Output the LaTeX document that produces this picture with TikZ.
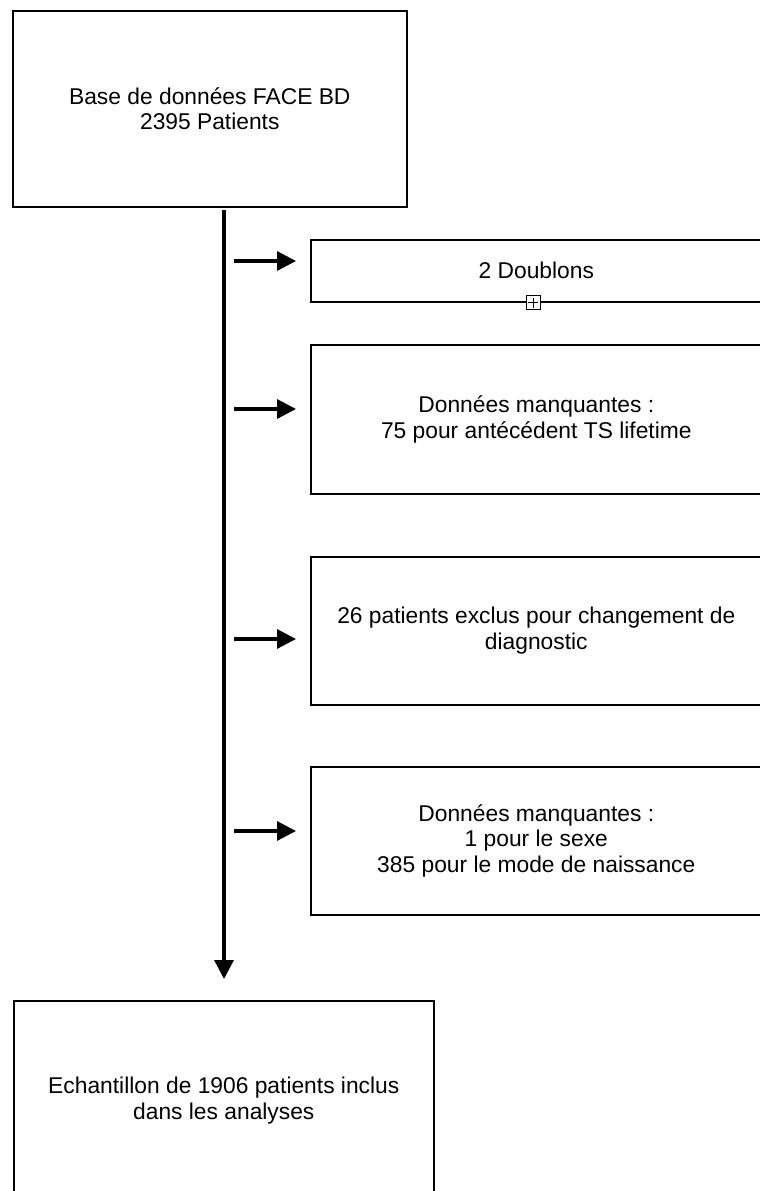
\documentclass[tikz,border=0pt]{standalone}
\usepackage{fontspec}
\setmainfont{Liberation Sans}
\usetikzlibrary{arrows.meta}
\tikzset{
  box/.style = {draw, line width=1.6pt, minimum width=#1, inner sep=0pt, align=center, font=\fontsize{22.8}{25.5}\selectfont, anchor=north west},
  flow/.style = {line width=3.2pt, -{Triangle[length=19pt,width=19pt]}}
}
\begin{document}
\begin{tikzpicture}[x=1pt, y=-1pt]
\useasboundingbox (0,0) rectangle (760,1191);
\clip (0,0) rectangle (760,1191);

\node [box=394pt, minimum height=196pt] (base) at (12,10) {Base de données FACE BD\\2395 Patients};
\node [box=420pt, minimum height=200pt] (echantillon) at (13,1000) {Echantillon de 1906 patients inclus\\dans les analyses};

\node [box=451pt, minimum height=62pt] (doublons) at (310,239) {2 Doublons};
\node [box=451pt, minimum height=149pt] (manquantesA) at (310,344) {Données manquantes :\\75 pour antécédent TS lifetime};
\node [box=451pt, minimum height=148pt] (exclus) at (310,556) {26 patients exclus pour changement de\\diagnostic};
\node [box=451pt, minimum height=148pt] (manquantesB) at (310,766) {Données manquantes :\\1 pour le sexe\\385 pour le mode de naissance};

% small expand marker
\coordinate (marque) at (doublons.south -| 533,0);
\draw [fill=white, line width=0.9pt] ([shift={(-7,-7)}]marque) rectangle ([shift={(7,7)}]marque);
\draw [line width=0.9pt] ([xshift=-5pt]marque) -- ([xshift=5pt]marque) ([yshift=-5pt]marque) -- ([yshift=5pt]marque);

% main trunk
\coordinate (haut) at (224,210);
\coordinate (bas) at (224,979);
\draw [flow] (haut) -- (bas);

% side arrows
\foreach \cible/\y in {doublons/261, manquantesA/409, exclus/639, manquantesB/831} {
  \coordinate (depart) at (234,\y);
  \draw [flow] (depart) -- ([xshift=-14pt]\cible.west |- depart);
}
\end{tikzpicture}
\end{document}
